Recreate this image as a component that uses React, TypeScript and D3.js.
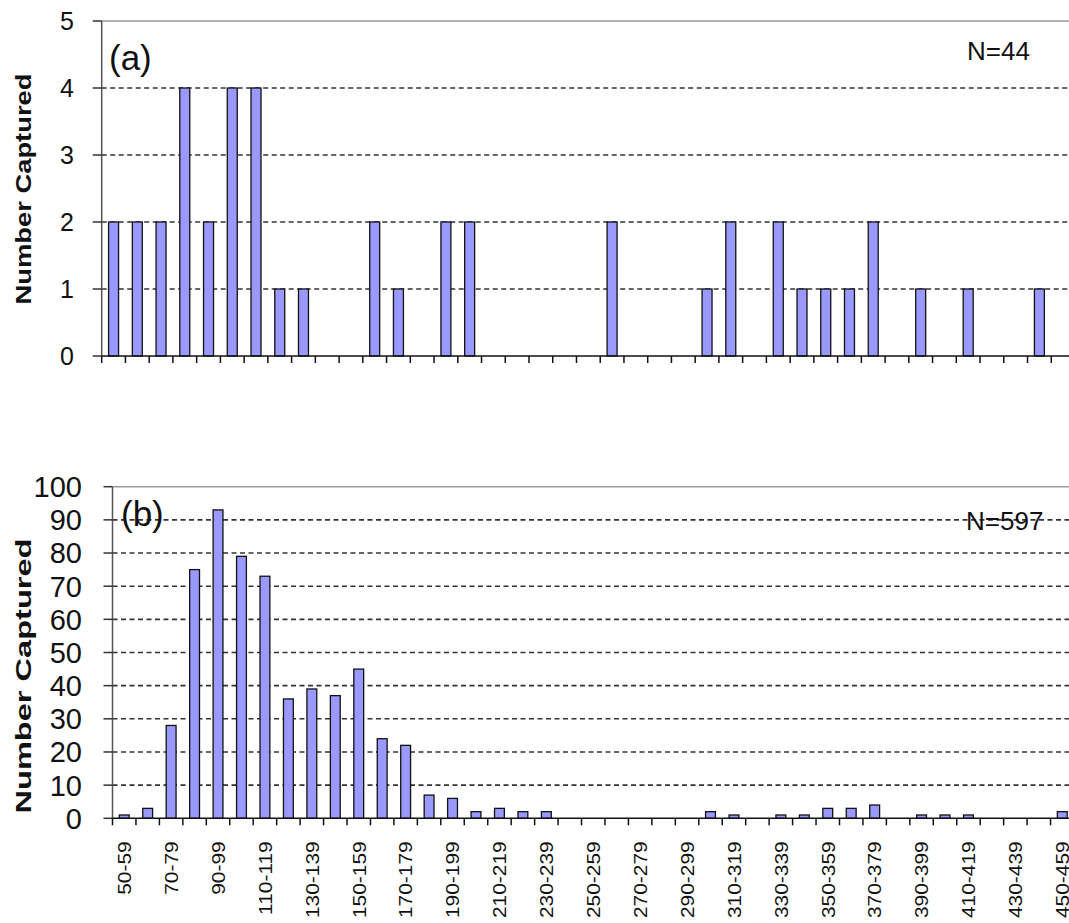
import React from "react";
import * as d3 from "d3";

const categories: string[] = [
  "50-59","60-69","70-79","80-89","90-99","100-109","110-119","120-129","130-139","140-149",
  "150-159","160-169","170-179","180-189","190-199","200-209","210-219","220-229","230-239","240-249",
  "250-259","260-269","270-279","280-289","290-299","300-309","310-319","320-329","330-339","340-349",
  "350-359","360-369","370-379","380-389","390-399","400-409","410-419","420-429","430-439","440-449",
  "450-459",
];

const valuesA: number[] = [
  2,2,2,4,2,4,4,1,1,0,
  0,2,1,0,2,2,0,0,0,0,
  0,2,0,0,0,1,2,0,2,1,
  1,1,2,0,1,0,1,0,0,1,
  0,
];

const valuesB: number[] = [
  1,3,28,75,93,79,73,36,39,37,
  45,24,22,7,6,2,3,2,2,0,
  0,0,0,0,0,2,1,0,1,1,
  3,3,4,0,1,1,1,0,0,0,
  2,
];

const ticksA: number[] = [0,1,2,3,4,5];
const ticksB: number[] = [0,10,20,30,40,50,60,70,80,90,100];

const FONT = "'Liberation Sans', Arial, Helvetica, sans-serif";

type PanelProps = {
  values: number[];
  ticks: number[];
  maxV: number;
  left: number;
  right: number;
  top: number;
  bottom: number;
  tickFont: number;
  labelRight: number;
  letter: string;
  letterX: number;
  letterY: number;
  nText: string;
  nX: number;
  nY: number;
  titleCenter: number;
  titleLen: number;
  showXLabels: boolean;
};

function Panel(p: PanelProps) {
  const x = d3.scaleBand<string>().domain(categories).range([p.left, p.right]).padding(0);
  const y = d3.scaleLinear().domain([0, p.maxV]).range([p.bottom, p.top]);
  const bw = x.bandwidth() * 0.42;
  const boundaries = categories.map((c) => x(c) as number).concat([p.right]);
  return (
    <g>
      {p.ticks.filter((t) => t > 0 && t < p.maxV).map((t) => (
        <line key={"g" + t} x1={p.left} x2={p.right} y1={y(t)} y2={y(t)}
          stroke="#333" strokeWidth={1.6} strokeDasharray="5,3.5" />
      ))}
      <line x1={p.left} x2={p.right} y1={y(p.maxV)} y2={y(p.maxV)} stroke="#999" strokeWidth={1.5} />
      {p.values.map((v, i) => v > 0 ? (
        <rect key={"b" + i}
          x={(x(categories[i]) as number) + x.bandwidth() / 2 - bw / 2}
          y={y(v)} width={bw} height={y(0) - y(v)}
          fill="#9999FF" stroke="#111" strokeWidth={1.3} />
      ) : null)}
      <line x1={p.left} x2={p.left} y1={p.top} y2={p.bottom} stroke="#555" strokeWidth={1.5} />
      {p.ticks.map((t) => (
        <g key={"yt" + t}>
          <line x1={p.left - 9} x2={p.left} y1={y(t)} y2={y(t)} stroke="#333" strokeWidth={1.5} />
          <text x={p.labelRight} y={y(t)} dy="0.36em" textAnchor="end"
            fontFamily={FONT} fontSize={p.tickFont} fill="#111">{t}</text>
        </g>
      ))}
      <line x1={p.left} x2={p.right} y1={p.bottom} y2={p.bottom} stroke="#111" strokeWidth={1.5} />
      {boundaries.map((bx, i) => (
        <line key={"xt" + i} x1={bx} x2={bx} y1={p.bottom} y2={p.bottom + 7} stroke="#111" strokeWidth={1.5} />
      ))}
      {p.showXLabels && categories.map((c, i) => i % 2 === 0 ? (
        <text key={"xl" + i}
          transform={`translate(${(x(c) as number) + x.bandwidth() / 2 + 6.8},${p.bottom + 23}) rotate(-90) scale(1.1,1)`}
          textAnchor="end" fontFamily={FONT} fontSize={19} fill="#111">{c}</text>
      ) : null)}
      <text transform={`translate(31,${p.titleCenter}) rotate(-90)`} textAnchor="middle"
        fontFamily={FONT} fontSize={22} fontWeight="bold" fill="#111"
        textLength={p.titleLen} lengthAdjust="spacingAndGlyphs">Number Captured</text>
      <text x={p.letterX} y={p.letterY} fontFamily={FONT} fontSize={35} fill="#111">{p.letter}</text>
      <text x={p.nX} y={p.nY} fontFamily={FONT} fontSize={26} fill="#111">{p.nText}</text>
    </g>
  );
}

export default function App() {
  return (
    <div style={{ position: "absolute", left: 0, top: 0 }}>
      <svg width={1069} height={923} viewBox="0 0 1069 923" style={{ display: "block", background: "#fff" }}>
        <rect x={0} y={0} width={1069} height={923} fill="#fff" />
        <Panel values={valuesA} ticks={ticksA} maxV={5}
          left={101.7} right={1075} top={21} bottom={356}
          tickFont={25} labelRight={74}
          letter="(a)" letterX={109} letterY={70}
          nText="N=44" nX={967} nY={60}
          titleCenter={189} titleLen={231} showXLabels={false} />
        <Panel values={valuesB} ticks={ticksB} maxV={100}
          left={112.5} right={1074} top={486.7} bottom={818.3}
          tickFont={29} labelRight={82}
          letter="(b)" letterX={121} letterY={526}
          nText="N=597" nX={966} nY={530}
          titleCenter={676} titleLen={275} showXLabels={true} />
      </svg>
    </div>
  );
}
